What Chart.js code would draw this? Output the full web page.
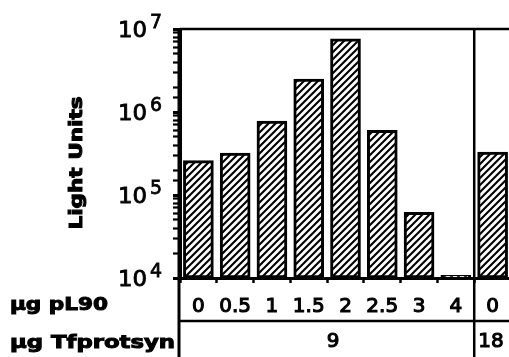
<!doctype html>
<html lang="en">
<head>
  <meta charset="utf-8" />
  <title>Light Units</title>
  <script src="https://cdn.jsdelivr.net/npm/chart.js@4.4.0/dist/chart.umd.min.js"></script>
  <style>
    html, body { margin: 0; padding: 0; background: #fff; overflow: hidden; }
    #lightChart { display: block; }
  </style>
</head>
<body>
  <canvas id="lightChart" width="530" height="357"></canvas>

  <script>
    // Data
    const pl90Labels = ["0", "0.5", "1", "1.5", "2", "2.5", "3", "4", "0"];
    const lightUnits = [2.6e5, 3.2e5, 7.8e5, 2.5e6, 7.6e6, 6.0e5, 6.2e4, 1.08e4, 3.3e5];
    const tfLabels = ["9", "18"];
    const tfStart = [0, 8];   // first bar index of each Tfprotsyn group
    const powers = [4, 5, 6, 7];

    // Diagonal hatch fill
    const makeHatch = () => {
      const n = 7;
      const c = document.createElement("canvas");
      c.width = n; c.height = n;
      const g = c.getContext("2d");
      g.fillStyle = "#fff";
      g.fillRect(0, 0, n, n);
      g.strokeStyle = "#000";
      g.lineWidth = 2.1;
      g.beginPath();
      g.moveTo(-1, n + 1); g.lineTo(n + 1, -1);
      g.moveTo(-1, 1); g.lineTo(1, -1);
      g.moveTo(n - 1, n + 1); g.lineTo(n + 1, n - 1);
      g.stroke();
      return g.createPattern(c, "repeat");
    };

    // Heavy text: fill plus a thin stroke, stretched to a width if asked
    const heavyText = (ctx, str, x, y, font, align, width, stroke) => {
      ctx.save();
      ctx.font = font;
      ctx.textAlign = "left";
      ctx.textBaseline = "alphabetic";
      const m = ctx.measureText(str).width;
      const sx = width ? width / m : 1;
      const w = m * sx;
      let left = x;
      if (align === "center") left = x - w / 2;
      if (align === "right") left = x - w;
      ctx.translate(left, y);
      ctx.scale(sx, 1);
      ctx.fillText(str, 0, 0);
      if (stroke) {
        ctx.lineWidth = stroke;
        ctx.strokeText(str, 0, 0);
      }
      ctx.restore();
    };

    const line = (ctx, x1, y1, x2, y2, w) => {
      ctx.lineWidth = w;
      ctx.beginPath();
      ctx.moveTo(x1, y1);
      ctx.lineTo(x2, y2);
      ctx.stroke();
    };

    const tablePlugin = {
      id: "tablePlugin",
      afterDraw(chart) {
        const { ctx, chartArea: a, scales: { x, y } } = chart;
        const W = chart.width, H = chart.height;
        const rowY = 321;
        ctx.save();
        ctx.strokeStyle = "#000";
        ctx.fillStyle = "#000";

        // frame and table rules
        line(ctx, a.left, a.top, W, a.top, 2.5);
        line(ctx, a.left - 1, a.top, a.left - 1, H, 3);
        line(ctx, a.left, rowY, W, rowY, 2.5);
        for (let k = 1; k < tfStart.length; k++) {
          const i = tfStart[k];
          const xd = (x.getPixelForValue(i - 1) + x.getPixelForValue(i)) / 2;
          line(ctx, xd, a.top, xd, H, 2.5);
        }

        // y tick labels 10^n
        powers.forEach(p => {
          const py = y.getPixelForValue(Math.pow(10, p));
          heavyText(ctx, "10", a.left - 33, py + 8, "21px 'DejaVu Sans'", "right", 29, 0.8);
          heavyText(ctx, String(p), a.left - 30, py - 1, "20px 'DejaVu Sans'", "left", 12, 0.8);
        });

        // pL90 row
        pl90Labels.forEach((lab, i) => {
          heavyText(ctx, lab, x.getPixelForValue(i), 312, "20px 'DejaVu Sans'", "center", 0, 1.1);
        });

        // Tfprotsyn row
        tfLabels.forEach((lab, k) => {
          const i0 = tfStart[k];
          const x0 = i0 === 0 ? a.left : (x.getPixelForValue(i0 - 1) + x.getPixelForValue(i0)) / 2;
          if (k + 1 < tfStart.length) {
            const i1 = tfStart[k + 1];
            const x1 = (x.getPixelForValue(i1 - 1) + x.getPixelForValue(i1)) / 2;
            heavyText(ctx, lab, (x0 + x1) / 2 + 6, 347, "20px 'DejaVu Sans'", "center", 0, 1.1);
          } else {
            heavyText(ctx, lab, x0 + 4, 347, "20px 'DejaVu Sans'", "left", 0, 1.1);
          }
        });

        // row headers
        heavyText(ctx, "µg pL90", 10, 310, "bold 18px 'DejaVu Sans'", "left", 98, 1);
        heavyText(ctx, "µg Tfprotsyn", 10, 348, "bold 18px 'DejaVu Sans'", "left", 165, 1);

        // y axis title
        ctx.save();
        ctx.translate(82, 163);
        ctx.rotate(-Math.PI / 2);
        heavyText(ctx, "Light Units", 0, 0, "bold 18px 'DejaVu Sans'", "center", 133, 1);
        ctx.restore();

        ctx.restore();
      }
    };

    const lightChart = new Chart(document.getElementById("lightChart"), {
      type: "bar",
      plugins: [tablePlugin],
      data: {
        labels: pl90Labels,
        datasets: [{
          data: lightUnits,
          backgroundColor: makeHatch(),
          borderColor: "#000",
          borderWidth: 3,
          borderSkipped: false,
          barThickness: 30,
        }],
      },
      options: {
        responsive: false,
        devicePixelRatio: 1,
        animation: false,
        layout: { padding: { top: 29, left: 0, right: 19, bottom: 0 } },
        plugins: { legend: { display: false }, tooltip: { enabled: false } },
        scales: {
          x: {
            offset: true,
            grid: { offset: true, drawOnChartArea: false, color: "#000", tickLength: 5, tickWidth: 2.5 },
            border: { display: true, color: "#000", width: 3 },
            ticks: { display: false },
            afterFit: (s) => { s.height = 79; },
          },
          y: {
            type: "logarithmic",
            min: 1e4,
            max: 1e7,
            grid: {
              drawOnChartArea: false,
              color: "#000",
              tickLength: 7,
              tickWidth: (c) => (Math.log10(c.tick.value) % 1 === 0 ? 3 : 2.2),
            },
            border: { display: true, color: "#000", width: 3 },
            ticks: { display: false, autoSkip: false },
            afterFit: (s) => { s.width = 180; },
          },
        },
      },
    });
  </script>
</body>
</html>
